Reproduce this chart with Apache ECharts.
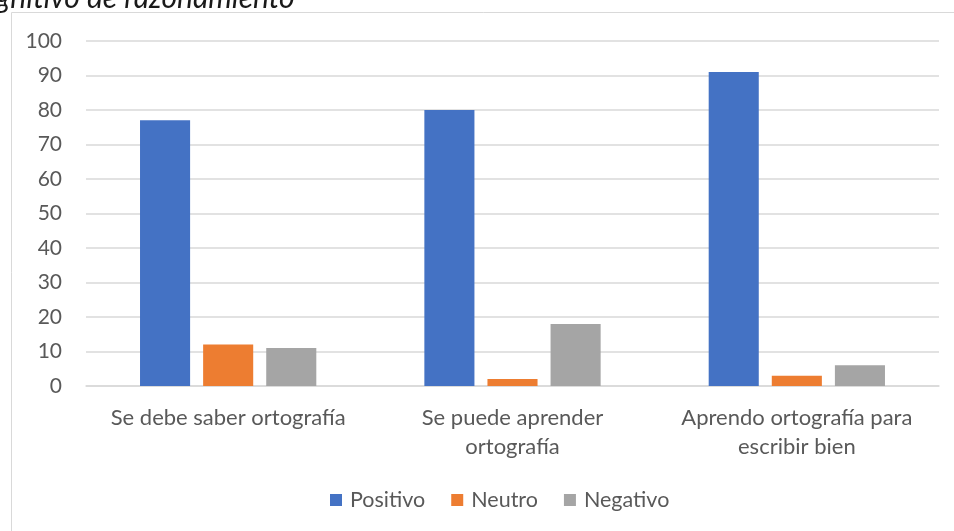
<!DOCTYPE html>
<html><head><meta charset="utf-8">
<script src="https://cdn.jsdelivr.net/npm/echarts@6/dist/echarts.min.js"></script>
<style>html,body{margin:0;padding:0;background:#fff}#c{width:954px;height:531px}</style>
</head><body><div id="c"></div>
<script>
const categories = ['Se debe saber ortografía', 'Se puede aprender\nortografía', 'Aprendo ortografía para\nescribir bien'];
const positivo = [77, 80, 91];
const neutro = [12, 2, 3];
const negativo = [11, 18, 6];
const yTicks = [0, 10, 20, 30, 40, 50, 60, 70, 80, 90, 100];
const font = 'Lato, Carlito, "Noto Sans", sans-serif';
const chart = echarts.init(document.getElementById('c'));
chart.setOption({
  animation: false,
  textStyle: {fontFamily: font},
  graphic: [
    {type: 'rect', shape: {x: 11.5, y: 12.5, width: 1000, height: 1000}, style: {fill: 'none', stroke: '#d9d9d9', lineWidth: 1}, z: -1},
    {type: 'text', x: -33, y: 13, style: {text: 'cognitivo de razonamiento', font: 'italic 30px ' + font, fill: '#1a1a1a', verticalAlign: 'bottom'}}
  ],
  grid: {left: 86, right: 15, top: 41, bottom: 145},
  legend: {
    top: 484, left: 325, itemWidth: 12, itemHeight: 12, itemGap: 26,
    icon: 'rect',
    textStyle: {fontSize: 21.5, color: '#595959', fontFamily: font, padding: [0, 0, 0, 3]},
    data: ['Positivo', 'Neutro', 'Negativo']
  },
  xAxis: {
    type: 'category', data: categories,
    axisLine: {lineStyle: {color: '#d9d9d9', width: 1.5}},
    axisTick: {show: false},
    axisLabel: {fontSize: 22, color: '#595959', margin: 17, lineHeight: 29, fontFamily: font, interval: 0}
  },
  yAxis: {
    type: 'value', min: 0, max: 100, interval: 10,
    axisLine: {show: false}, axisTick: {show: false},
    splitLine: {lineStyle: {color: '#d9d9d9', width: 1.5}},
    axisLabel: {fontSize: 21, color: '#595959', margin: 24, fontFamily: font,
      formatter: v => yTicks.includes(v) ? String(v) : ''}
  },
  series: [
    {name: 'Positivo', type: 'bar', data: positivo, itemStyle: {color: '#4472c4'}, barGap: '26%', barCategoryGap: '38%'},
    {name: 'Neutro', type: 'bar', data: neutro, itemStyle: {color: '#ed7d31'}},
    {name: 'Negativo', type: 'bar', data: negativo, itemStyle: {color: '#a5a5a5'}}
  ]
});
</script></body></html>
